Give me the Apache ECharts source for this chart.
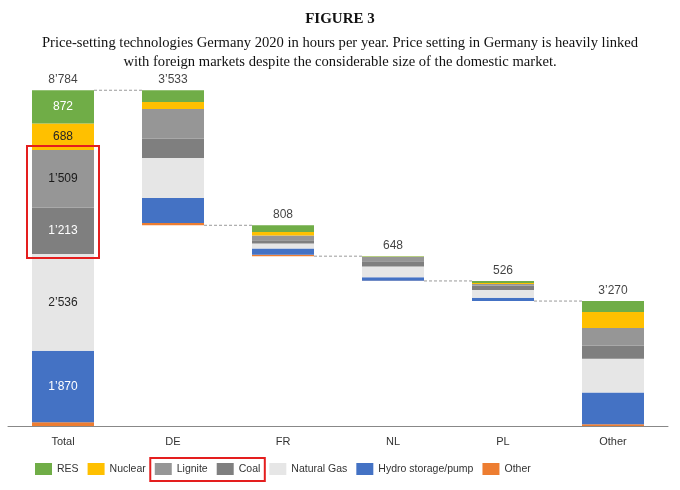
<!DOCTYPE html>
<html><head><meta charset="utf-8">
<script src="https://cdn.jsdelivr.net/npm/echarts@6/dist/echarts.min.js"></script>
<style>html,body{margin:0;padding:0;background:#fff}#c{width:680px;height:490px}</style>
</head><body><div id="c"></div>
<script>
const categories = ['Total','DE','FR','NL','PL','Other'];
const totals = [8784, 3533, 808, 648, 526, 3270];
const resVals     = [872, 310, 175, 15, 55, 288];
const nuclearVals = [688, 180, 90, 5, 25, 420];
const ligniteVals = [1509, 780, 125, 115, 40, 453];
const coalVals    = [1213, 500, 85, 135, 120, 350];
const gasVals     = [2536, 1050, 135, 283, 200, 885];
const hydroVals   = [1870, 650, 163, 90, 85, 830];
const otherVals   = [96, 63, 35, 5, 1, 44];
const legendNames = ['RES','Nuclear','Lignite','Coal','Natural Gas','Hydro storage/pump','Other'];

const fmt = v => String(Math.round(v)).replace(/\B(?=(\d{3})+(?!\d))/g, '\u2019');

// waterfall bases
const bases = [];
let level = totals[0];
categories.forEach((c, i) => {
  if (i === 0 || i === categories.length - 1) bases.push(0);
  else { level -= totals[i]; bases.push(level); }
});

const F = 'Liberation Sans';
const BW = 62;
const techs = [
  {name:'Other', data: otherVals, color:'#ED7D31', lc:null},
  {name:'Hydro storage/pump', data: hydroVals, color:'#4472C4', lc:'#ffffff'},
  {name:'Natural Gas', data: gasVals, color:'#E6E6E6', lc:'#262626'},
  {name:'Coal', data: coalVals, color:'#7F7F7F', lc:'#ffffff'},
  {name:'Lignite', data: ligniteVals, color:'#969696', lc:'#1a1a1a'},
  {name:'Nuclear', data: nuclearVals, color:'#FFC000', lc:'#262626'},
  {name:'RES', data: resVals, color:'#70AD47', lc:'#ffffff'}
];

const series = [];
series.push({name:'base', type:'bar', stack:'s', data:bases, barWidth:BW, z:2,
  itemStyle:{color:'transparent'}, silent:true});
techs.forEach(t => {
  series.push({name:t.name, type:'bar', stack:'s', data:t.data, barWidth:BW, z:2,
    itemStyle:{color:t.color},
    label:{show: !!t.lc, position:'inside', color:t.lc || '#000', fontFamily:F, fontSize:12,
      formatter: p => p.dataIndex === 0 ? fmt(p.value) : ''}
  });
});
series.push({name:'totalLabel', type:'scatter', symbolSize:1, z:3,
  itemStyle:{color:'transparent'},
  data: categories.map((c,i) => [i, bases[i] + totals[i]]),
  label:{show:true, position:'top', distance:4, color:'#111', fontFamily:F, fontSize:12,
    formatter: p => fmt(totals[p.dataIndex])}
});
// connector lines between bar edges (secondary value x axis in category units)
const half = 0.282;
for (let i = 0; i < categories.length - 1; i++) {
  const y = (i === 0) ? totals[0] : bases[i];
  series.push({name:'conn'+i, type:'line', xAxisIndex:1, z:1, symbol:'none', silent:true,
    lineStyle:{color:'#9a9a9a', width:1, type:[3,2]},
    data:[[i + half, y],[i + 1 - half, y]]});
}

const LEG = {left:35, top:463, iw:17, ih:12, gap:9, fs:10.5};
const chart = echarts.init(document.getElementById('c'), null, {renderer:'canvas'});
chart.setOption({
  animation:false,
  title:[
    {text:'FIGURE 3', left:'center', top:7,
      textStyle:{fontFamily:'Liberation Serif', fontWeight:'bold', fontSize:15, color:'#111'}},
    {text:'Price-setting technologies Germany 2020 in hours per year. Price setting in Germany is heavily linked\nwith foreign markets despite the considerable size of the domestic market.',
      left:'center', top:29,
      textStyle:{fontFamily:'Liberation Serif', fontWeight:'normal', fontSize:14.6, lineHeight:19, color:'#111', align:'center'}}
  ],
  grid:{left:8, right:12, top:82, bottom:64, containLabel:false},
  xAxis:[
    {type:'category', data:categories,
      axisLine:{lineStyle:{color:'#888', width:1}}, axisTick:{show:false},
      axisLabel:{color:'#333', fontFamily:F, fontSize:11, margin:10}},
    {type:'value', min:-0.5, max:categories.length - 0.5, show:false}
  ],
  yAxis:{type:'value', min:0, max:9000, show:false, splitLine:{show:false}},
  legend:{data:legendNames, padding:0,
    left:LEG.left, top:LEG.top, itemWidth:LEG.iw, itemHeight:LEG.ih, itemGap:LEG.gap, icon:'rect',
    textStyle:{fontFamily:F, fontSize:LEG.fs, color:'#333'}},
  series: series
});

// measure legend layout to place the highlight box around Lignite + Coal
const ctx = document.createElement('canvas').getContext('2d');
ctx.font = LEG.fs + 'px "' + F + '"';
let x = LEG.left; const pos = {};
legendNames.forEach(n => {
  const w = LEG.iw + 5 + ctx.measureText(n).width;
  pos[n] = {x0:x, x1:x + w};
  x += w + LEG.gap;
});
const lbx0 = pos['Lignite'].x0 - LEG.gap/2, lbx1 = pos['Coal'].x1 + LEG.gap/2;

const xc = chart.convertToPixel({xAxisIndex:0}, 0);
const lowV = otherVals[0] + hydroVals[0] + gasVals[0];
const highV = lowV + coalVals[0] + ligniteVals[0];
const yTop = chart.convertToPixel({yAxisIndex:0}, highV);
const yBot = chart.convertToPixel({yAxisIndex:0}, lowV);
chart.setOption({graphic:[
  {type:'rect', shape:{x:xc-BW/2-5, y:yTop-4, width:BW+10, height:yBot-yTop+8},
    style:{fill:null, stroke:'#E41E1E', lineWidth:2}, z:10},
  {type:'rect', shape:{x:lbx0, y:LEG.top-5, width:lbx1-lbx0, height:LEG.ih+11},
    style:{fill:null, stroke:'#E41E1E', lineWidth:2}, z:10}
]});
</script></body></html>
